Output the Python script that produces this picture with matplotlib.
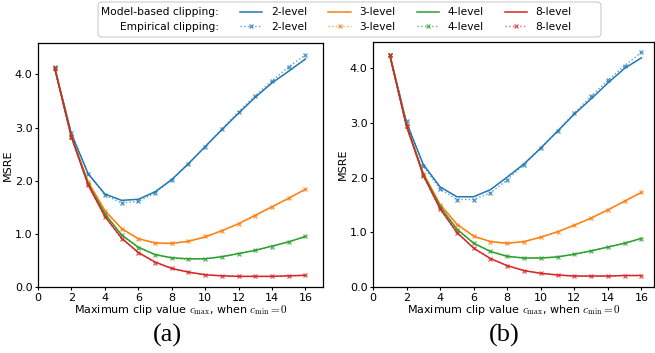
import matplotlib
matplotlib.use("Agg")
import matplotlib.pyplot as plt
import matplotlib.patches as mpatches
from matplotlib.lines import Line2D
from matplotlib.ticker import FormatStrFormatter

plt.rcParams['mathtext.fontset'] = 'cm'

clip_values = list(range(1, 17))
levels = ["2-level", "3-level", "4-level", "8-level"]
colors = ["#1f77b4", "#ff7f0e", "#2ca02c", "#d62728"]

# Panel (a)
a_model = [
    [4.12, 2.88, 2.13, 1.75, 1.63, 1.65, 1.79, 2.02, 2.32, 2.64, 2.96, 3.27, 3.57, 3.84, 4.06, 4.29],
    [4.12, 2.82, 1.98, 1.44, 1.10, 0.91, 0.83, 0.82, 0.86, 0.94, 1.06, 1.19, 1.35, 1.51, 1.67, 1.84],
    [4.12, 2.83, 1.94, 1.38, 0.98, 0.75, 0.61, 0.55, 0.53, 0.53, 0.57, 0.63, 0.69, 0.77, 0.85, 0.95],
    [4.12, 2.82, 1.92, 1.33, 0.92, 0.65, 0.47, 0.35, 0.28, 0.23, 0.21, 0.20, 0.20, 0.20, 0.21, 0.22],
]
a_emp = [
    [4.14, 2.90, 2.13, 1.73, 1.58, 1.61, 1.77, 2.02, 2.32, 2.64, 2.97, 3.30, 3.60, 3.88, 4.14, 4.37],
    [4.12, 2.82, 1.97, 1.43, 1.09, 0.90, 0.82, 0.82, 0.86, 0.95, 1.06, 1.19, 1.34, 1.50, 1.67, 1.84],
    [4.12, 2.83, 1.93, 1.37, 0.97, 0.74, 0.61, 0.54, 0.52, 0.53, 0.57, 0.62, 0.69, 0.76, 0.85, 0.95],
    [4.12, 2.82, 1.91, 1.32, 0.91, 0.64, 0.46, 0.35, 0.28, 0.23, 0.21, 0.20, 0.20, 0.20, 0.21, 0.22],
]

# Panel (b)
b_model = [
    [4.25, 3.00, 2.24, 1.83, 1.65, 1.65, 1.78, 2.01, 2.25, 2.54, 2.85, 3.16, 3.44, 3.73, 4.00, 4.19],
    [4.24, 2.95, 2.08, 1.51, 1.15, 0.93, 0.83, 0.80, 0.83, 0.91, 1.01, 1.13, 1.26, 1.41, 1.57, 1.73],
    [4.24, 2.95, 2.06, 1.47, 1.06, 0.80, 0.65, 0.56, 0.53, 0.53, 0.55, 0.60, 0.66, 0.73, 0.80, 0.89],
    [4.24, 2.94, 2.04, 1.43, 1.00, 0.71, 0.52, 0.39, 0.30, 0.25, 0.22, 0.20, 0.20, 0.20, 0.21, 0.21],
]
b_emp = [
    [4.25, 3.03, 2.21, 1.79, 1.60, 1.60, 1.72, 1.96, 2.24, 2.54, 2.85, 3.18, 3.49, 3.78, 4.05, 4.29],
    [4.24, 2.95, 2.07, 1.50, 1.14, 0.93, 0.83, 0.80, 0.83, 0.91, 1.01, 1.13, 1.26, 1.41, 1.57, 1.73],
    [4.24, 2.95, 2.05, 1.46, 1.05, 0.80, 0.65, 0.56, 0.53, 0.53, 0.55, 0.60, 0.66, 0.73, 0.80, 0.88],
    [4.24, 2.94, 2.03, 1.42, 0.99, 0.71, 0.52, 0.39, 0.30, 0.25, 0.22, 0.20, 0.20, 0.20, 0.21, 0.21],
]

W, H = 655, 353
fig = plt.figure(figsize=(W / 100, H / 100), dpi=100)

def fx(px):
    return px / W

def fy(py):
    return 1 - py / H

ax_a = fig.add_axes([fx(38), fy(287), fx(323) - fx(38), fy(43) - fy(287)])
ax_b = fig.add_axes([fx(373), fy(287), fx(654) - fx(373), fy(42) - fy(287)])

FS = 7.7
AFS = 8.0
for ax, model, emp, xmax, ymax in [(ax_a, a_model, a_emp, 17.05, 4.59),
                                   (ax_b, b_model, b_emp, 16.75, 4.48)]:
    for i in range(4):
        ax.plot(clip_values, model[i], color=colors[i], lw=1.1, ls='-')
        ax.plot(clip_values, emp[i], color=colors[i], lw=1.0, ls=':',
                marker='x', ms=3.5, mew=1.0, alpha=0.7)
    ax.set_xlim(0, xmax)
    ax.set_ylim(0, ymax)
    ax.set_xticks([0, 2, 4, 6, 8, 10, 12, 14, 16])
    ax.set_yticks([0, 1, 2, 3, 4])
    ax.yaxis.set_major_formatter(FormatStrFormatter('%.1f'))
    ax.tick_params(labelsize=AFS, length=2.5, width=0.8, pad=1.5)
    ax.set_ylabel("MSRE", fontsize=AFS, labelpad=1)
    ax.set_xlabel(r"Maximum clip value $c_{\max}$, when $c_{\min}=0$", fontsize=AFS, labelpad=0)
    for s in ax.spines.values():
        s.set_linewidth(0.9)

# Legend frame
frame = mpatches.FancyBboxPatch((fx(98), fy(37)), fx(601) - fx(98), fy(2) - fy(37),
                                boxstyle="round,pad=0,rounding_size=0.006",
                                mutation_aspect=W / H,
                                transform=fig.transFigure, facecolor='white',
                                edgecolor='0.8', lw=0.8, zorder=1)
fig.patches.append(frame)

handles, labels = [], []
for i in range(4):
    handles.append(Line2D([], [], color=colors[i], lw=1.1, ls='-'))
    labels.append(levels[i])
    handles.append(Line2D([], [], color=colors[i], lw=1.0, ls=':', marker='x',
                          ms=3.5, mew=1.0, alpha=0.7))
    labels.append(levels[i])
leg = fig.legend(handles, labels, ncol=4, loc='upper left',
                 bbox_to_anchor=(fx(240), fy(7.3)), frameon=False,
                 fontsize=FS, handlelength=2.1, handletextpad=0.78,
                 columnspacing=2.0, labelspacing=0.42, borderpad=0,
                 borderaxespad=0)
leg.set_zorder(3)

fig.text(fx(219), fy(11.7), "Model-based clipping:", ha='right', va='center', fontsize=FS, zorder=3)
fig.text(fx(219), fy(26.7), "Empirical clipping:", ha='right', va='center', fontsize=FS, zorder=3)

fig.text(fx(167.5), fy(335), "(a)", ha='center', va='center', fontsize=19, family='Liberation Serif')
fig.text(fx(504), fy(335), "(b)", ha='center', va='center', fontsize=19, family='Liberation Serif')

fig.savefig("out.png", dpi=100)
